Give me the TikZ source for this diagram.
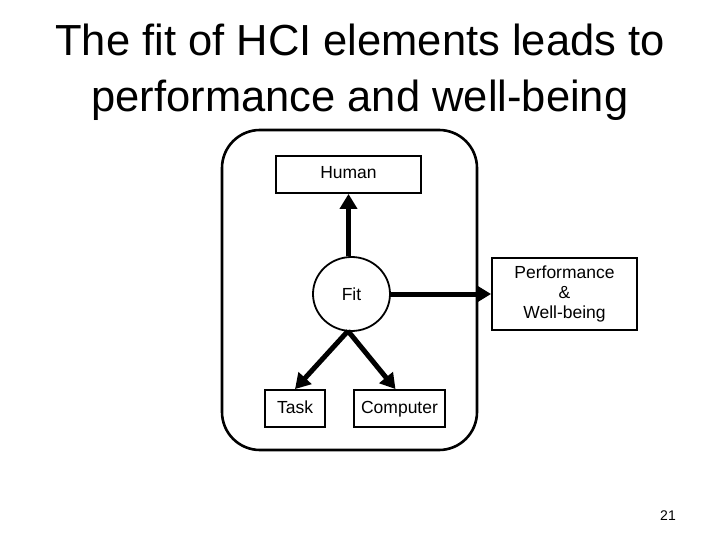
\documentclass[tikz,border=0pt]{standalone}
\usepackage{fontspec}
\setmainfont{Liberation Sans}
\usetikzlibrary{arrows.meta,shapes.geometric}
\begin{document}
\begin{tikzpicture}[x=1pt,y=-1pt,
  box/.style={draw,line width=1.8pt,inner sep=0pt,font=\fontsize{17.5}{20}\selectfont,align=center},
  one/.style={text height=12.5pt,text depth=3.5pt},
  conn/.style={line width=5pt,-{Triangle[length=15pt,width=17pt]}}]
\useasboundingbox (0,0) rectangle (720,540);
\node[font=\fontsize{43.5}{56}\selectfont,align=center] (title) at (360,72) {The fit of HCI elements leads to\\performance and well-being};
\node[draw,line width=2.6pt,rounded corners=38pt,minimum width=255pt,minimum height=320pt] (frame) at (349.5,290) {};
\node[box,one,minimum width=145pt,minimum height=37pt] (human) at (348.5,174.5) {Human};
\node[draw,ellipse,line width=1.8pt,minimum width=77pt,minimum height=74pt,inner sep=0pt,font=\fontsize{17.5}{20}\selectfont] (fit) at (351.5,294) {Fit};
\node[box,minimum width=145pt,minimum height=72pt] (perf) at (564.5,294) {Performance\\\&\\Well-being};
\node[box,one,minimum width=60pt,minimum height=37pt] (task) at (295,408.5) {Task};
\node[box,one,minimum width=91pt,minimum height=37pt] (comp) at (399.5,408.5) {Computer};
\node[font=\fontsize{14}{16}\selectfont] (num) at (668,516) {21};
\draw[conn] (fit.north -| human.south) -- (human.south);
\draw[conn] (fit.east) -- (perf.west);
\coordinate (fb) at (348,331);
\draw[conn] (fb) -- (task.north);
\draw[conn] (fb) -- ([xshift=-4pt]comp.north);
\end{tikzpicture}
\end{document}
